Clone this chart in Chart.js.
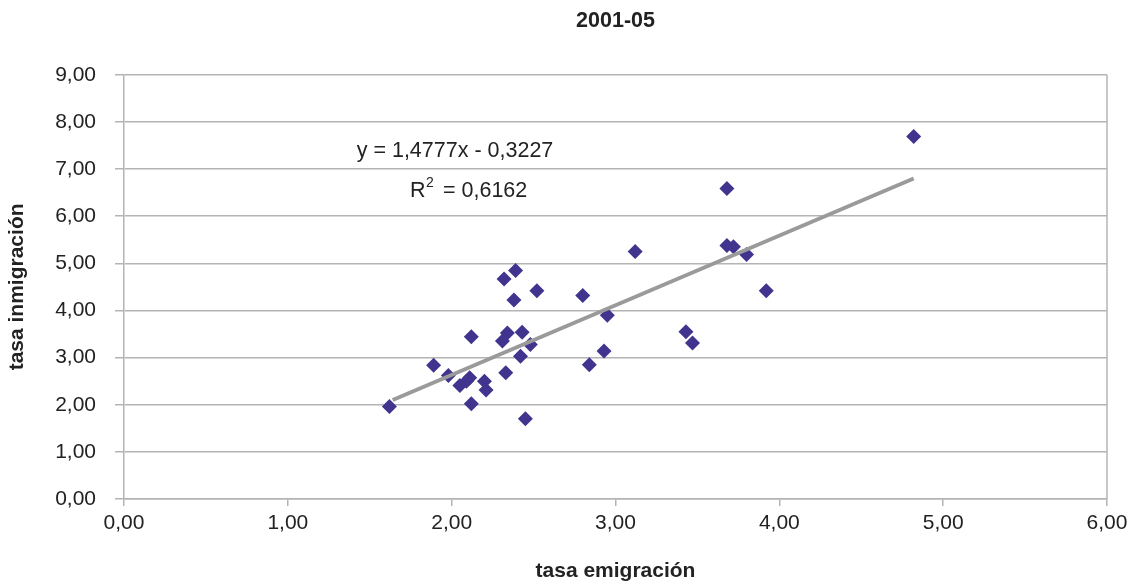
<!DOCTYPE html>
<html>
<head>
<meta charset="utf-8">
<script src="https://cdn.jsdelivr.net/npm/chart.js@4.4.1/dist/chart.umd.min.js"></script>
<style>
  html, body { margin: 0; padding: 0; background: #fff; }
  #wrap { width: 1130px; height: 583px; }
</style>
</head>
<body>
<div id="wrap"><canvas id="chart" width="1130" height="583"></canvas></div>
<script>
// Data
const emigracion = [1.62, 1.89, 1.98, 2.05, 2.09, 2.11, 2.12, 2.12, 2.20, 2.21, 2.32, 2.39, 2.52, 2.38,
                    2.33, 2.43, 2.34, 2.31, 2.48, 2.42, 2.45, 3.12, 2.80, 2.95, 2.84, 2.93, 3.43, 3.47,
                    3.68, 3.72, 3.80, 3.68, 4.82, 3.92];
const inmigracion = [1.96, 2.84, 2.62, 2.41, 2.50, 2.57, 3.44, 2.02, 2.50, 2.31, 4.67, 4.85, 4.42, 4.22,
                     2.68, 3.54, 3.52, 3.35, 3.28, 3.03, 1.70, 5.25, 4.32, 3.90, 2.85, 3.14, 3.55, 3.31,
                     5.38, 5.35, 5.19, 6.59, 7.69, 4.42];
// trend line end points
const trendX = [1.64, 4.82];
const trendY = [2.10, 6.80];

const xTicks = [0, 1, 2, 3, 4, 5, 6];
const yTicks = [0, 1, 2, 3, 4, 5, 6, 7, 8, 9];

const gridColor = '#b4b4b4';
const fontFamily = "'Liberation Sans', Arial, sans-serif";

const fmt = v => v.toFixed(2).replace('.', ',');

// Equation text and right border
const extras = {
    id: 'extras',
    afterDraw(chart) {
        const ctx = chart.ctx;
        const area = chart.chartArea;
        ctx.save();
        ctx.strokeStyle = gridColor;
        ctx.lineWidth = 1.5;
        ctx.beginPath();
        ctx.moveTo(area.right, area.top);
        ctx.lineTo(area.right, area.bottom);
        ctx.stroke();

        ctx.fillStyle = '#222';
        ctx.textBaseline = 'alphabetic';
        ctx.font = '21.5px ' + fontFamily;
        ctx.textAlign = 'center';
        ctx.fillText('y = 1,4777x - 0,3227', 455, 157);
        ctx.textAlign = 'left';
        ctx.fillText('R', 410, 197);
        ctx.font = '14px ' + fontFamily;
        ctx.fillText('2', 426, 187);
        ctx.font = '21.5px ' + fontFamily;
        ctx.fillText(' = 0,6162', 437, 197);
        ctx.restore();
    }
};

new Chart(document.getElementById('chart'), {
    type: 'scatter',
    data: {
        datasets: [
            {
                type: 'line',
                label: 'tendencia',
                data: trendX.map((x, i) => ({ x: x, y: trendY[i] })),
                borderColor: '#9a9a9a',
                borderWidth: 4,
                pointRadius: 0,
                fill: false,
                order: 0
            },
            {
                label: 'tasa',
                data: emigracion.map((x, i) => ({ x: x, y: inmigracion[i] })),
                pointStyle: 'rectRot',
                pointRadius: 7.5,
                pointHoverRadius: 7.5,
                backgroundColor: '#40348f',
                borderColor: '#40348f',
                borderWidth: 0,
                order: 1
            }
        ]
    },
    options: {
        responsive: false,
        animation: false,
        layout: { padding: { left: 0, right: 23, top: 0, bottom: 0 } },
        plugins: {
            legend: { display: false },
            tooltip: { enabled: false },
            title: {
                display: true,
                fullSize: false,
                text: '2001-05',
                color: '#222',
                font: { family: fontFamily, size: 21.5, weight: 'bold' },
                padding: { top: 8, bottom: 41 }
            }
        },
        scales: {
            x: {
                type: 'linear',
                min: 0,
                max: 6,
                afterBuildTicks: axis => { axis.ticks = xTicks.map(v => ({ value: v })); },
                afterFit: axis => {
                    axis.height = 84;
                    axis.paddingLeft = 0;
                    axis.paddingRight = 0;
                },
                ticks: {
                    color: '#222',
                    font: { family: fontFamily, size: 21 },
                    padding: 5,
                    callback: v => fmt(v)
                },
                grid: {
                    drawOnChartArea: false,
                    drawTicks: true,
                    tickLength: 7,
                    color: gridColor,
                    lineWidth: 1.5
                },
                border: { color: gridColor, width: 1.5 },
                title: {
                    display: true,
                    text: 'tasa emigración',
                    color: '#222',
                    font: { family: fontFamily, size: 21, weight: 'bold' },
                    padding: { top: 0, bottom: -1 }
                }
            },
            y: {
                type: 'linear',
                min: 0,
                max: 9,
                afterBuildTicks: axis => { axis.ticks = yTicks.map(v => ({ value: v })); },
                afterFit: axis => {
                    axis.width = 124;
                    axis.paddingTop = 0;
                    axis.paddingBottom = 0;
                },
                ticks: {
                    color: '#222',
                    font: { family: fontFamily, size: 21 },
                    padding: 19,
                    callback: v => fmt(v)
                },
                grid: {
                    drawOnChartArea: true,
                    drawTicks: true,
                    tickLength: 9,
                    color: gridColor,
                    lineWidth: 1.5
                },
                border: { color: gridColor, width: 1.5 },
                title: {
                    display: true,
                    text: 'tasa inmigración',
                    color: '#222',
                    font: { family: fontFamily, size: 21, weight: 'bold' },
                    padding: { top: 5, bottom: 0 }
                }
            }
        }
    },
    plugins: [extras]
});
</script>
</body>
</html>
